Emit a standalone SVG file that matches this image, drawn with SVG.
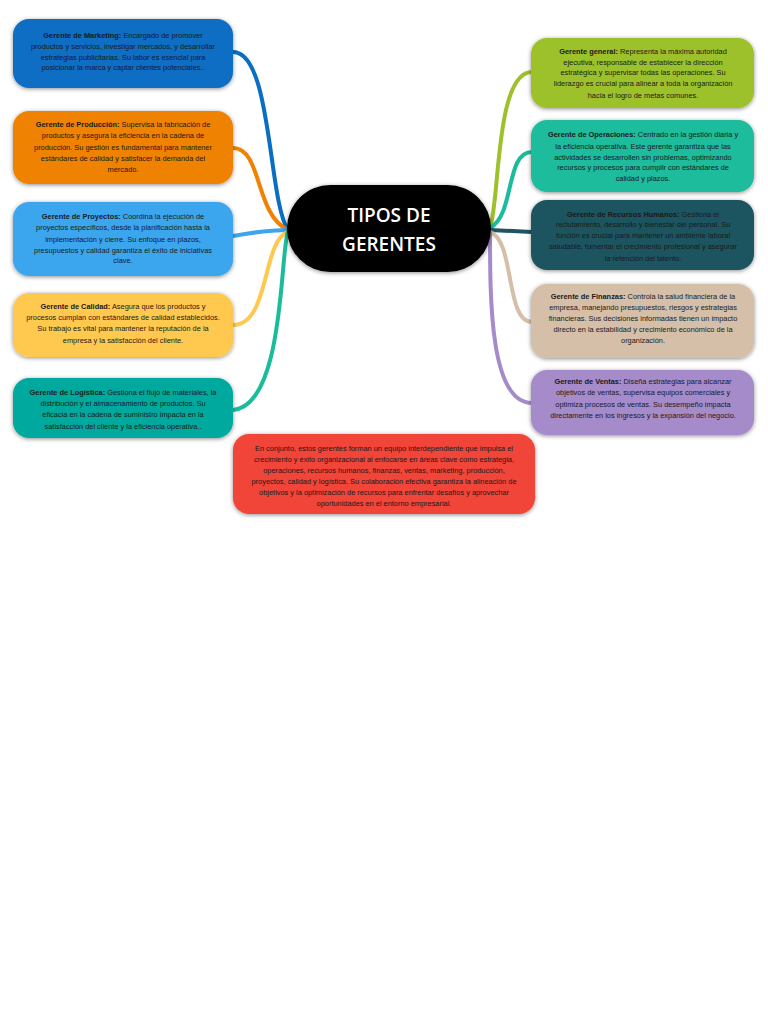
<svg xmlns="http://www.w3.org/2000/svg" width="768" height="1024" viewBox="0 0 768 1024">
<style>
.n{filter:url(#sh)}
.t{font-family:"Liberation Sans",Arial,sans-serif;font-size:7.4px;fill:#1a1a1a;text-anchor:middle}
.b{font-weight:bold}
.c{fill:none;stroke-width:4;stroke-linecap:round}
.title{font-family:"Open Sans","Liberation Sans",sans-serif;font-size:19px;font-weight:600;fill:#fff;text-anchor:middle}
</style>
<defs>
<filter id="sh" x="-10%" y="-20%" width="120%" height="140%">
<feDropShadow dx="0" dy="1" stdDeviation="2" flood-color="#000" flood-opacity="0.45"/>
</filter>
</defs>
<rect width="768" height="1024" fill="#fff"/>
<g id="connectors">
<path class="c" stroke="#0A6EC4" d="M233,52 C272,52 268,200 288,230"/>
<path class="c" stroke="#EF8200" d="M233,148 C262,148 255,215 288,230"/>
<path class="c" stroke="#3BA6EE" d="M233,236 C255,232 270,230 288,230"/>
<path class="c" stroke="#FFC94F" d="M233,325 C270,325 262,240 288,232"/>
<path class="c" stroke="#1ABC9C" d="M233,410 C285,405 280,250 288,232"/>
<path class="c" stroke="#9DC12A" d="M490,228 C500,200 495,72 532,72"/>
<path class="c" stroke="#1ABC9C" d="M490,228 C515,215 505,152 532,152"/>
<path class="c" stroke="#1E5560" d="M490,230 L532,232"/>
<path class="c" stroke="#D5BFA9" d="M490,232 C515,240 505,322 532,322"/>
<path class="c" stroke="#A68BCB" d="M490,232 C490,300 490,403 532,403"/>
</g>
<g id="center">
<rect class="n" x="287" y="185" width="204" height="87" rx="43.5" fill="#000"/>
<text class="title" x="389" y="222">TIPOS DE</text>
<text class="title" x="389" y="251">GERENTES</text>
</g>
<g id="marketing">
<rect class="n" x="13" y="19" width="220" height="69" rx="16" fill="#0A6EC4"/>
<text class="t" x="123" y="38"><tspan class="b">Gerente de Marketing:</tspan> Encargado de promover</text>
<text class="t" x="123" y="49">productos y servicios, investigar mercados, y desarrollar</text>
<text class="t" x="123" y="60">estrategias publicitarias. Su labor es esencial para</text>
<text class="t" x="123" y="70">posicionar la marca y captar clientes potenciales..</text>
</g>
<g id="produccion">
<rect class="n" x="13" y="111" width="220" height="73" rx="16" fill="#EF8200"/>
<text class="t" x="123" y="127"><tspan class="b">Gerente de Producción:</tspan> Supervisa la fabricación de</text>
<text class="t" x="123" y="138">productos y asegura la eficiencia en la cadena de</text>
<text class="t" x="123" y="150">producción. Su gestión es fundamental para mantener</text>
<text class="t" x="123" y="161">estándares de calidad y satisfacer la demanda del</text>
<text class="t" x="123" y="172">mercado.</text>
</g>
<g id="proyectos">
<rect class="n" x="13" y="202" width="220" height="74" rx="16" fill="#3BA6EE"/>
<text class="t" x="123" y="219"><tspan class="b">Gerente de Proyectos:</tspan> Coordina la ejecución de</text>
<text class="t" x="123" y="230">proyectos específicos, desde la planificación hasta la</text>
<text class="t" x="123" y="242">implementación y cierre. Su enfoque en plazos,</text>
<text class="t" x="123" y="253">presupuestos y calidad garantiza el éxito de iniciativas</text>
<text class="t" x="123" y="263">clave.</text>
</g>
<g id="calidad">
<rect class="n" x="13" y="293" width="220" height="64" rx="16" fill="#FFC94F"/>
<text class="t" x="123" y="309"><tspan class="b">Gerente de Calidad:</tspan> Asegura que los productos y</text>
<text class="t" x="123" y="320">procesos cumplan con estándares de calidad establecidos.</text>
<text class="t" x="123" y="331">Su trabajo es vital para mantener la reputación de la</text>
<text class="t" x="123" y="343">empresa y la satisfacción del cliente.</text>
</g>
<g id="logistica">
<rect class="n" x="13" y="378" width="220" height="60" rx="16" fill="#00A99D"/>
<text class="t" x="123" y="395"><tspan class="b">Gerente de Logística:</tspan> Gestiona el flujo de materiales, la</text>
<text class="t" x="123" y="406">distribución y el almacenamiento de productos. Su</text>
<text class="t" x="123" y="417">eficacia en la cadena de suministro impacta en la</text>
<text class="t" x="123" y="429">satisfacción del cliente y la eficiencia operativa..</text>
</g>
<g id="general">
<rect class="n" x="531" y="38" width="223" height="70" rx="16" fill="#9DC12A"/>
<text class="t" x="643" y="54"><tspan class="b">Gerente general:</tspan> Representa la máxima autoridad</text>
<text class="t" x="643" y="65">ejecutiva, responsable de establecer la dirección</text>
<text class="t" x="643" y="75">estratégica y supervisar todas las operaciones. Su</text>
<text class="t" x="643" y="86">liderazgo es crucial para alinear a toda la organización</text>
<text class="t" x="643" y="98">hacia el logro de metas comunes.</text>
</g>
<g id="operaciones">
<rect class="n" x="531" y="120" width="223" height="72" rx="16" fill="#1ABC9C"/>
<text class="t" x="643" y="137"><tspan class="b">Gerente de Operaciones:</tspan> Centrado en la gestión diaria y</text>
<text class="t" x="643" y="149">la eficiencia operativa. Este gerente garantiza que las</text>
<text class="t" x="643" y="160">actividades se desarrollen sin problemas, optimizando</text>
<text class="t" x="643" y="170">recursos y procesos para cumplir con estándares de</text>
<text class="t" x="643" y="181">calidad y plazos.</text>
</g>
<g id="rrhh">
<rect class="n" x="531" y="200" width="223" height="70" rx="16" fill="#1E5560"/>
<text class="t" x="643" y="217"><tspan class="b">Gerente de Recursos Humanos:</tspan> Gestiona el</text>
<text class="t" x="643" y="227">reclutamiento, desarrollo y bienestar del personal. Su</text>
<text class="t" x="643" y="238">función es crucial para mantener un ambiente laboral</text>
<text class="t" x="643" y="249">saludable, fomentar el crecimiento profesional y asegurar</text>
<text class="t" x="643" y="261">la retención del talento.</text>
</g>
<g id="finanzas">
<rect class="n" x="531" y="284" width="223" height="74" rx="16" fill="#D5BFA9"/>
<text class="t" x="643" y="299"><tspan class="b">Gerente de Finanzas:</tspan> Controla la salud financiera de la</text>
<text class="t" x="643" y="310">empresa, manejando presupuestos, riesgos y estrategias</text>
<text class="t" x="643" y="321">financieras. Sus decisiones informadas tienen un impacto</text>
<text class="t" x="643" y="332">directo en la estabilidad y crecimiento económico de la</text>
<text class="t" x="643" y="343">organización.</text>
</g>
<g id="ventas">
<rect class="n" x="531" y="370" width="223" height="65" rx="16" fill="#A68BCB"/>
<text class="t" x="643" y="384"><tspan class="b">Gerente de Ventas:</tspan> Diseña estrategias para alcanzar</text>
<text class="t" x="643" y="395">objetivos de ventas, supervisa equipos comerciales y</text>
<text class="t" x="643" y="407">optimiza procesos de ventas. Su desempeño impacta</text>
<text class="t" x="643" y="418">directamente en los ingresos y la expansión del negocio.</text>
</g>
<g id="conclusion">
<rect class="n" x="233" y="434" width="302" height="80" rx="16" fill="#F04438"/>
<text class="t" x="384" y="451">En conjunto, estos gerentes forman un equipo interdependiente que impulsa el</text>
<text class="t" x="384" y="462">crecimiento y éxito organizacional al enfocarse en áreas clave como estrategia,</text>
<text class="t" x="384" y="473">operaciones, recursos humanos, finanzas, ventas, marketing, producción,</text>
<text class="t" x="384" y="484">proyectos, calidad y logística. Su colaboración efectiva garantiza la alineación de</text>
<text class="t" x="384" y="495">objetivos y la optimización de recursos para enfrentar desafíos y aprovechar</text>
<text class="t" x="384" y="506">oportunidades en el entorno empresarial.</text>
</g>
</svg>
